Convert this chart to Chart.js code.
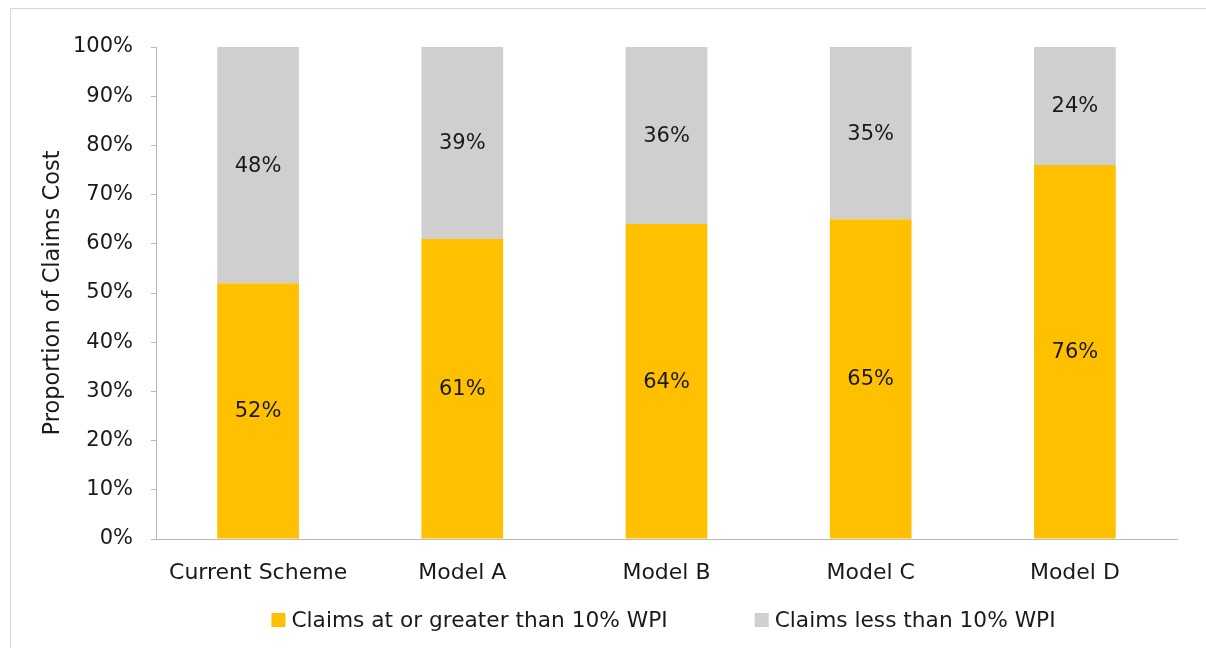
<!DOCTYPE html>
<html>
<head>
<meta charset="utf-8">
<script src="https://cdn.jsdelivr.net/npm/chart.js@4"></script>
<style>
  html, body { margin: 0; padding: 0; background: #fff; overflow: hidden; }
  #wrap { position: relative; width: 1206px; height: 648px; overflow: hidden; }
  #frame { position: absolute; left: 10px; top: 8px; width: 1220px; height: 660px; border: 1px solid #d6d6d6; box-sizing: border-box; }
  canvas { position: absolute; left: 0; top: 0; }
</style>
</head>
<body>
<div id="wrap">
  <div id="frame"></div>
  <canvas id="chart" width="1206" height="648"></canvas>
</div>
<script>
const categories = ['Current Scheme', 'Model A', 'Model B', 'Model C', 'Model D'];
const atOrAbove = [52, 61, 64, 65, 76];
const below = [48, 39, 36, 35, 24];
const seriesNames = ['Claims at or greater than 10% WPI', 'Claims less than 10% WPI'];
const seriesColors = ['#FFC000', '#CFCFCF'];

const FONT = 'DejaVu Sans';
const TEXT = '#1a1a1a';

// percent labels in the middle of each segment
const segmentLabels = {
  id: 'segmentLabels',
  afterDatasetsDraw(chart) {
    const ctx = chart.ctx;
    ctx.save();
    ctx.font = '21px "' + FONT + '"';
    ctx.fillStyle = TEXT;
    ctx.textAlign = 'center';
    ctx.textBaseline = 'middle';
    chart.data.datasets.forEach((ds, i) => {
      chart.getDatasetMeta(i).data.forEach((bar, j) => {
        const mid = (bar.y + bar.base) / 2;
        ctx.fillText(ds.data[j] + '%', bar.x, mid + 1);
      });
    });
    ctx.restore();
  }
};

// legend row under the axis labels
const bottomLegend = {
  id: 'bottomLegend',
  afterDraw(chart) {
    const ctx = chart.ctx;
    const y = 620, box = 14, gap = 6, spacing = 87;
    ctx.save();
    ctx.font = '21.7px "' + FONT + '"';
    ctx.textBaseline = 'middle';
    const widths = chart.data.datasets.map(ds => box + gap + ctx.measureText(ds.label).width);
    const total = widths.reduce((a, b) => a + b, 0) + spacing * (widths.length - 1);
    let x = (chart.chartArea.left + chart.chartArea.right) / 2 - 3 - total / 2;
    chart.data.datasets.forEach((ds, i) => {
      ctx.fillStyle = ds.backgroundColor;
      ctx.fillRect(x, y - box / 2, box, box);
      ctx.fillStyle = TEXT;
      ctx.fillText(ds.label, x + box + gap, y + 1);
      x += widths[i] + spacing;
    });
    ctx.restore();
  }
};

new Chart(document.getElementById('chart'), {
  type: 'bar',
  data: {
    labels: categories,
    datasets: [
      { label: seriesNames[0], data: atOrAbove, backgroundColor: seriesColors[0] },
      { label: seriesNames[1], data: below, backgroundColor: seriesColors[1] }
    ]
  },
  options: {
    responsive: false,
    animation: false,
    events: [],
    layout: { padding: { top: 47, right: 29, left: 40, bottom: 0 } },
    datasets: { bar: { barPercentage: 0.4, categoryPercentage: 1 } },
    plugins: { legend: { display: false }, tooltip: { enabled: false } },
    scales: {
      x: {
        stacked: true,
        grid: { display: false },
        border: { display: true, color: '#b8b8b8', width: 1 },
        ticks: { color: TEXT, font: { family: FONT, size: 22 }, padding: 13, maxRotation: 0 },
        afterFit(scale) { scale.height = 109; }
      },
      y: {
        stacked: true,
        min: 0,
        max: 100,
        grid: { drawOnChartArea: false, drawTicks: true, tickLength: 5, color: '#b8b8b8' },
        border: { display: true, color: '#b8b8b8', width: 1 },
        ticks: { stepSize: 10, color: TEXT, font: { family: FONT, size: 21 }, padding: 18,
                 callback: v => v + '%' },
        title: { display: true, text: 'Proportion of Claims Cost', color: TEXT,
                 font: { family: FONT, size: 22.5 }, padding: 0 },
        afterFit(scale) { scale.width = 116; }
      }
    }
  },
  plugins: [segmentLabels, bottomLegend]
});
</script>
</body>
</html>
